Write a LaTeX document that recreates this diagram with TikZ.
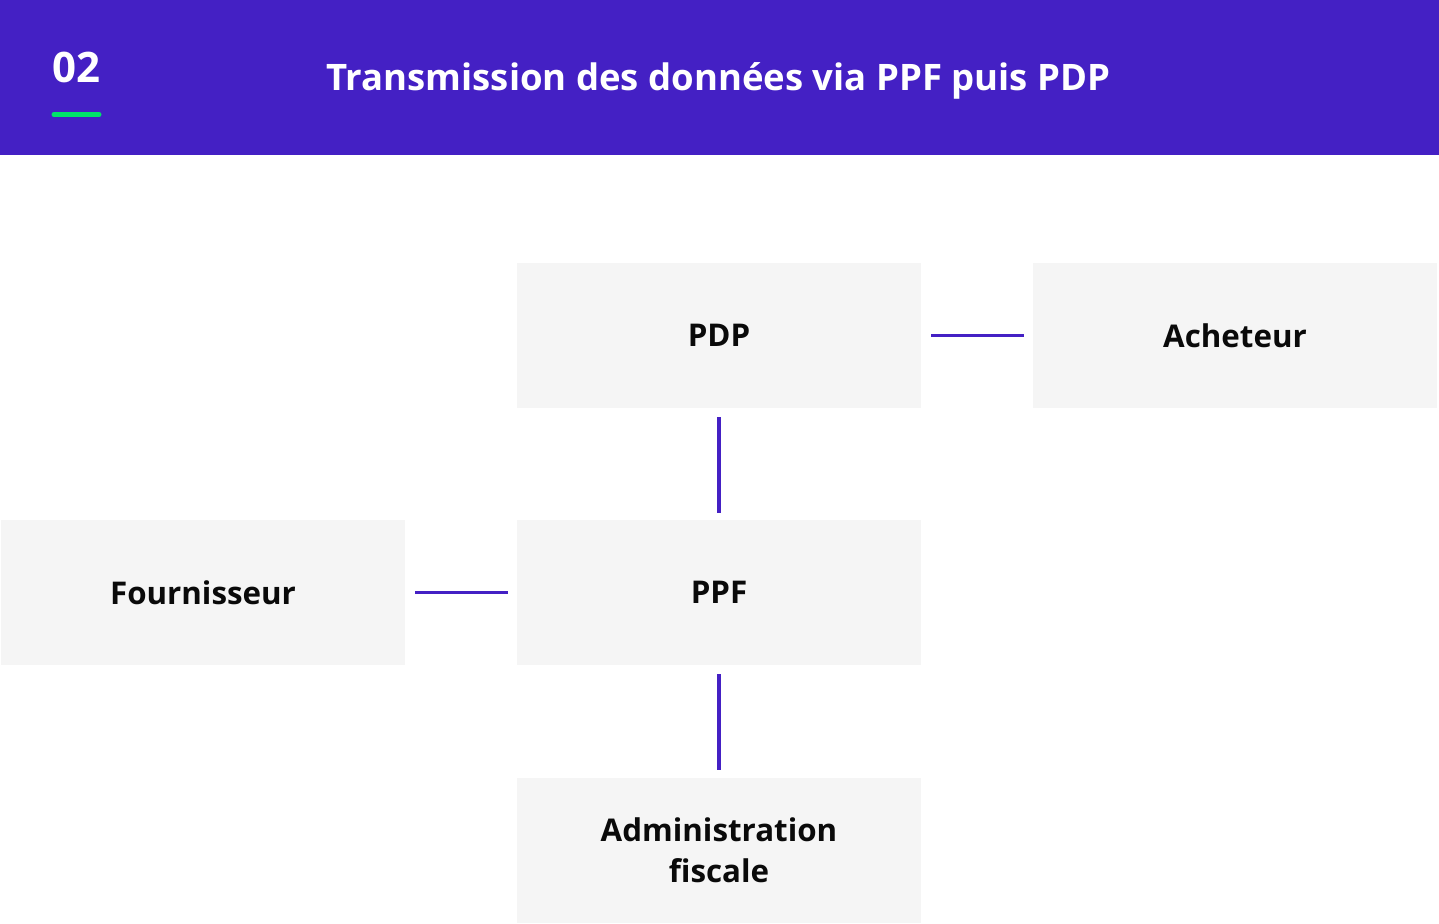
\documentclass[tikz,border=0pt]{standalone}
\usepackage{fontspec}
\setmainfont{Open Sans}
\definecolor{hdr}{HTML}{4420C4}
\definecolor{grn}{HTML}{00E36A}
\definecolor{boxfill}{HTML}{F5F5F5}
\definecolor{ink}{HTML}{0A0A0A}
\tikzset{
  card/.style={fill=boxfill, draw=none, minimum width=404pt, minimum height=145pt, inner sep=0pt,
    font=\fontsize{31.3}{40.5}\selectfont\bfseries, text=ink, align=center},
  link/.style={draw=hdr, line width=3.5pt},
}
\begin{document}
\begin{tikzpicture}[x=1pt,y=-1pt]
\useasboundingbox (0,0) rectangle (1439,923);
\fill[white] (0,0) rectangle (1439,923);
\fill[hdr] (0,0) rectangle (1439,155);
\node[anchor=base west, inner sep=0pt, text=white, font=\fontsize{42}{42}\selectfont\bfseries] (num) at (52,83) {02};
\draw[grn, line width=5pt, line cap=round] (54,114.5) -- (99,114.5);
\node[anchor=base, inner sep=0pt, text=white, font=\fontsize{36.5}{40}\selectfont\bfseries] (title) at (718.5,91) {Transmission des données via PPF puis PDP};

\node[card] (pdp) at (719,335.5) {PDP};
\node[card] (ach) at (1235,335.5) {Acheteur};
\node[card] (four) at (203,592.5) {Fournisseur};
\node[card] (ppf) at (719,592.5) {PPF};
\node[card] (adm) at (719,850.5) {Administration\\fiscale};

\draw[link] ([xshift=10pt]pdp.east) -- ([xshift=-9pt]ach.west);
\draw[link] ([yshift=-9pt]pdp.south) -- ([yshift=7pt]ppf.north);
\draw[link] ([xshift=10pt]four.east) -- ([xshift=-9pt]ppf.west);
\draw[link] ([yshift=-9pt]ppf.south) -- ([yshift=8pt]adm.north);
\end{tikzpicture}
\end{document}
